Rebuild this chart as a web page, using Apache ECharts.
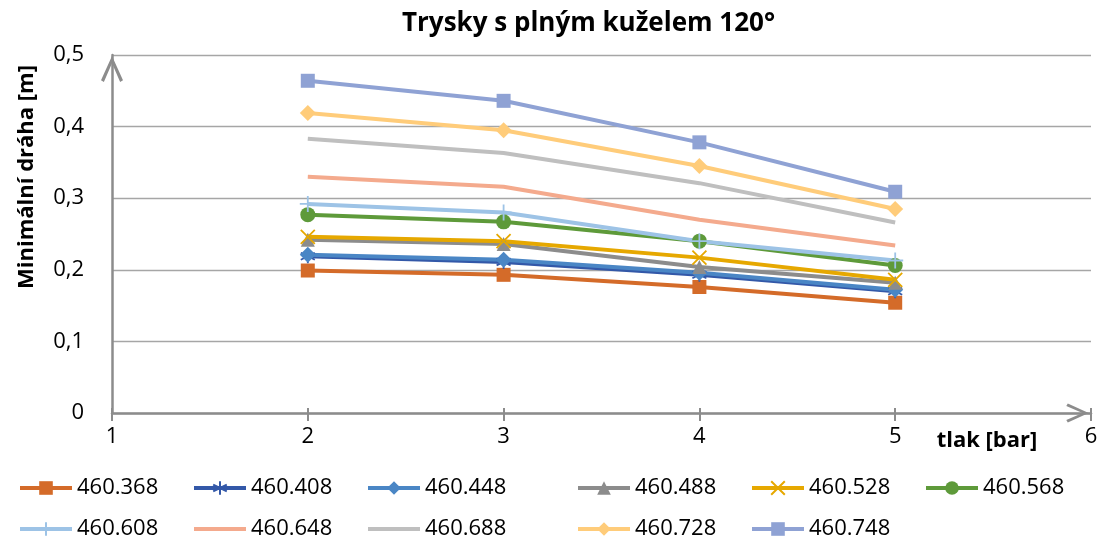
<!DOCTYPE html>
<html>
<head>
<meta charset="utf-8">
<script src="https://cdn.jsdelivr.net/npm/echarts@6/dist/echarts.min.js"></script>
<style>
  html, body { margin: 0; padding: 0; background: #fff; }
  #chart { width: 1101px; height: 542px; }
</style>
</head>
<body>
<div id="chart"></div>
<script>
// Pressure values (bar) on the horizontal axis
const pressures = [2, 3, 4, 5];

// Minimum path length [m] for each nozzle type
const seriesNames = ['460.368', '460.408', '460.448', '460.488', '460.528', '460.568',
                     '460.608', '460.648', '460.688', '460.728', '460.748'];
const v368 = [0.199, 0.193, 0.176, 0.154];
const v408 = [0.219, 0.211, 0.193, 0.170];
const v448 = [0.221, 0.214, 0.196, 0.172];
const v488 = [0.242, 0.236, 0.204, 0.182];
const v528 = [0.246, 0.240, 0.217, 0.186];
const v568 = [0.277, 0.267, 0.240, 0.206];
const v608 = [0.292, 0.280, 0.240, 0.213];
const v648 = [0.330, 0.316, 0.270, 0.234];
const v688 = [0.383, 0.363, 0.321, 0.266];
const v728 = [0.419, 0.395, 0.345, 0.285];
const v748 = [0.464, 0.436, 0.378, 0.309];
const seriesValues = [v368, v408, v448, v488, v528, v568, v608, v648, v688, v728, v748];

const FONT = '"Open Sans", "Noto Sans", sans-serif';

// Open chevron used as the arrow head on both axes (points up in its own box)
const chevron = 'path://M10,0 L20,22 L17.4,23.6 L10,6.5 L2.6,23.6 L0,22 Z';
// Stroked marker shapes
const asterisk = 'path://M10,0 L10,20 M1.3,5 L18.7,15 M1.3,15 L18.7,5';
const cross = 'path://M0,0 L20,20 M0,20 L20,0';
const plus = 'path://M10,0 L10,20 M0,10 L20,10';

const styles = [
  { color: '#D46B29', symbol: 'rect', size: 14 },
  { color: '#3358A8', symbol: asterisk, size: 14, stroke: true },
  { color: '#4A86C5', symbol: 'diamond', size: 16 },
  { color: '#8C8C8C', symbol: 'triangle', size: 14 },
  { color: '#E6A800', symbol: cross, size: 14, stroke: true },
  { color: '#5E9A3A', symbol: 'circle', size: 15 },
  { color: '#9DC3E6', symbol: plus, size: 16, stroke: true },
  { color: '#F4AA8D', symbol: null, size: 0 },
  { color: '#BFBFBF', symbol: null, size: 0 },
  { color: '#FFCC7A', symbol: 'diamond', size: 16 },
  { color: '#8FA2D4', symbol: 'rect', size: 14 }
];

const series = seriesNames.map(function (name, i) {
  const st = styles[i];
  const plain = st.symbol === null;
  let itemStyle;
  if (plain) itemStyle = { color: 'rgba(0,0,0,0)', borderWidth: 0 };
  else if (st.stroke) itemStyle = { color: 'rgba(0,0,0,0)', borderColor: st.color, borderWidth: 1.8 };
  else itemStyle = { color: st.color, borderWidth: 0 };
  return {
    name: name,
    type: 'line',
    xAxisIndex: 0,
    data: pressures.map(function (p, j) { return [p, seriesValues[i][j]]; }),
    symbol: plain ? 'circle' : st.symbol,
    symbolSize: st.size,
    showSymbol: !plain,
    lineStyle: { color: st.color, width: 4 },
    itemStyle: itemStyle,
    emphasis: { disabled: true },
    animation: false
  };
});

// Legend laid out in columns, two rows each
const columnLeft = [18, 192, 366, 576, 750, 924];
const legends = columnLeft.map(function (left, c) {
  const names = [seriesNames[c]];
  if (seriesNames[c + 6]) names.push(seriesNames[c + 6]);
  return {
    data: names,
    orient: 'vertical',
    left: left,
    top: 476,
    height: 100,
    padding: 0,
    itemWidth: 52,
    itemHeight: 17,
    itemGap: 17,
    selectedMode: false,
    lineStyle: { width: 4 },
    textStyle: { fontFamily: FONT, fontSize: 22, color: '#000', lineHeight: 24 }
  };
});

const axisGray = '#8C8C8C';

const option = {
  backgroundColor: '#fff',
  animation: false,
  grid: { left: 112, right: 10, top: 55, bottom: 129, containLabel: false },
  legend: legends,
  xAxis: [
    {
      type: 'value', min: 1, max: 6, interval: 1,
      axisLine: {
        show: true,
        lineStyle: { color: axisGray, width: 2.5 },
        symbol: ['none', chevron],
        symbolSize: [19, 27],
        symbolOffset: [0, -13.5]
      },
      axisTick: { show: true, length: 8, lineStyle: { color: axisGray, width: 2 } },
      axisLabel: { fontFamily: FONT, fontSize: 22, color: '#000', margin: 13 },
      splitLine: { show: false }
    },
    {
      type: 'value', min: 1, max: 6, interval: 1, position: 'bottom',
      axisLine: { show: false },
      axisTick: { show: true, inside: true, length: 5, lineStyle: { color: axisGray, width: 2 } },
      axisLabel: { show: false },
      splitLine: { show: false }
    }
  ],
  yAxis: {
    type: 'value', min: 0, max: 0.5, interval: 0.1,
    axisLine: {
      show: true,
      lineStyle: { color: axisGray, width: 2.5 },
      symbol: ['none', chevron],
      symbolSize: [22, 28],
      symbolOffset: [0, -14]
    },
    axisTick: { show: false },
    axisLabel: {
      fontFamily: FONT, fontSize: 22, color: '#000', margin: 28,
      formatter: function (v) { return v === 0 ? '0' : v.toFixed(1).replace('.', ','); }
    },
    splitLine: { show: true, lineStyle: { color: '#A6A6A6', width: 1.3 } }
  },
  graphic: [
    {
      type: 'text', left: 402, top: 11,
      style: { text: 'Trysky s plným kuželem 120°', fontFamily: FONT, fontSize: 26, fontWeight: 'bold', fill: '#000' }
    },
    {
      type: 'text', x: 27, y: 177, rotation: Math.PI / 2,
      style: { text: 'Minimální dráha [m]', fontFamily: FONT, fontSize: 22, fontWeight: 'bold', fill: '#000',
               align: 'center', verticalAlign: 'middle' }
    },
    {
      type: 'text', x: 987, y: 441,
      style: { text: 'tlak [bar]', fontFamily: FONT, fontSize: 22, fontWeight: 'bold', fill: '#000',
               align: 'center', verticalAlign: 'middle' }
    }
  ],
  series: series
};

const chart = echarts.init(document.getElementById('chart'), null, { renderer: 'canvas' });
chart.setOption(option);
</script>
</body>
</html>
